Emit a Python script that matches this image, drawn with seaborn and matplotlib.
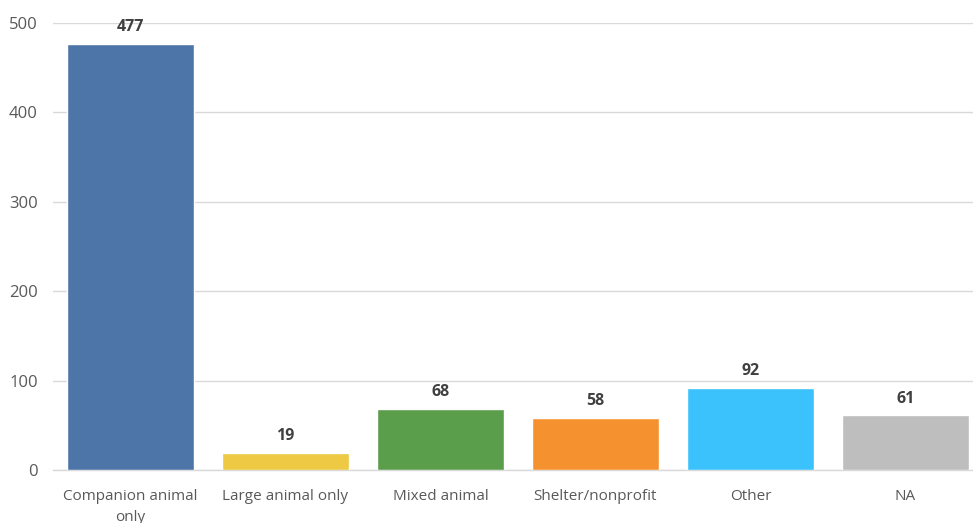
import numpy as np
import pandas as pd
import seaborn as sns
import matplotlib.pyplot as plt

# practice types and counts
categories = ['Companion animal\nonly', 'Large animal only', 'Mixed animal',
              'Shelter/nonprofit', 'Other', 'NA']
counts = [477, 19, 68, 58, 92, 61]
bar_colors = ['#4E75A8', '#EDC944', '#5A9E4B', '#F5922F', '#3BC1FC', '#BEBEBE']
yticks = [0, 100, 200, 300, 400, 500]

sns.set_style('white')
plt.rcParams['font.family'] = ['Open Sans', 'DejaVu Sans']

df = pd.DataFrame({'category': categories, 'count': counts})

fig = plt.figure(figsize=(9.73, 5.23), dpi=100)
ax = fig.add_axes([53 / 973, 53 / 523, 930 / 973, 447 / 523])

sns.barplot(data=df, x='category', y='count', hue='category', palette=bar_colors,
            width=0.82, legend=False, saturation=1, ax=ax, zorder=3)

ax.set_xlim(-0.5, 5.5)
ax.set_ylim(0, 500)
ax.set_yticks(yticks)
ax.yaxis.grid(True, color='#D9D9D9', linewidth=1, zorder=0)
ax.set_axisbelow(True)
for s in ['left', 'right', 'top']:
    ax.spines[s].set_visible(False)
ax.spines['bottom'].set_color('#D9D9D9')
ax.spines['bottom'].set_linewidth(1)
ax.tick_params(axis='x', length=0, labelsize=11, labelcolor='#595959', pad=14)
ax.tick_params(axis='y', length=0, labelsize=12, labelcolor='#595959', pad=11)
for lbl in ax.get_xticklabels():
    lbl.set_linespacing(1.5)
ax.set_xlabel('')
ax.set_ylabel('')

for i, v in enumerate(counts):
    ax.text(i, v + 10, str(v), ha='center', va='bottom', fontsize=11.5,
            fontweight='bold', color='#404040')

fig.savefig('out.png', dpi=100)
